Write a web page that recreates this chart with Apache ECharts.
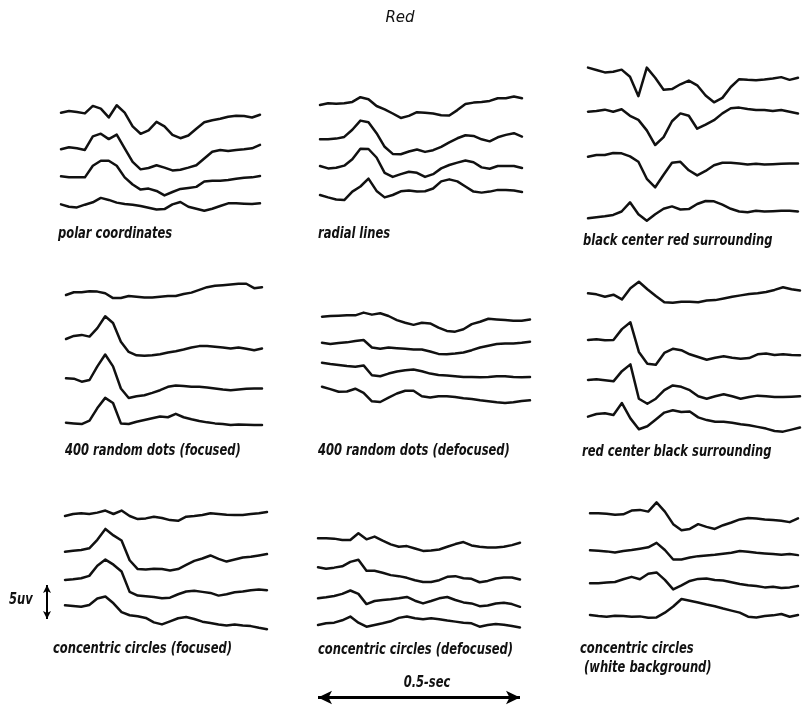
<!DOCTYPE html>
<html>
<head>
<meta charset="utf-8">
<script src="https://cdn.jsdelivr.net/npm/echarts@6/dist/echarts.min.js"></script>
<style>
  html, body { margin: 0; padding: 0; background: #fff; }
  #chart { width: 806px; height: 707px; }
</style>
</head>
<body>
<div id="chart"></div>
<script>
// Evoked responses to red patterns: four sweeps per stimulus.
// Every trace is sampled every SAMPLE_MS ms over a 0.5 s sweep; values in µV (positive = up).
const SAMPLE_MS = 20;
const SWEEP_MS = 500;
const SCALE_UV = 5;      // vertical calibration bar
const SCALE_MS = 500;    // horizontal calibration bar
const chartTitle = 'Red';

const polarCoordinates = [
  [0,0.25,0.1,-0.1,1.0,0.6,-0.7,1.1,0,-2.0,-3.1,-2.6,-1.35,-2.0,-3.25,-3.75,-3.35,-2.35,-1.4,-1.1,-0.9,-0.6,-0.45,-0.5,-0.7,-0.3],
  [0,0.3,0.15,-0.1,1.9,2.3,1.5,2.15,0.15,-1.85,-2.95,-2.75,-2.35,-2.7,-3.1,-3.0,-2.7,-2.35,-1.35,-0.35,-0.1,-0.25,-0.1,0,0.15,0.65],
  [-0.05,-0.2,-0.2,-0.2,1.5,2.25,2.25,1.5,-0.2,-1.25,-2.0,-1.85,-2.2,-2.85,-2.35,-1.9,-1.75,-1.6,-0.8,-0.7,-0.7,-0.6,-0.4,-0.25,-0.2,0],
  [-0.05,-0.4,-0.5,-0.1,0.25,0.9,0.6,0.2,0,-0.1,-0.3,-0.55,-0.8,-0.75,-0.05,0.3,-0.4,-0.7,-1.0,-0.7,-0.3,0.1,0.1,0.05,0,0.1]
];
const radialLines = [
  [0,0.25,0.2,0.25,0.45,1.15,0.85,-0.15,-0.65,-1.25,-1.9,-1.6,-1.05,-1.15,-1.25,-1.5,-1.55,-0.75,0.15,0.35,0.45,0.6,1.0,1.0,1.25,1.0],
  [0,0,0.1,0.35,1.4,2.75,2.5,0.9,-1.1,-2.15,-2.2,-1.8,-1.5,-1.85,-1.6,-1.1,-0.45,0.15,0.6,0.5,0,-0.3,0.3,0.65,0.9,0.4],
  [0,-0.35,-0.25,0.05,1.0,2.55,2.5,1.25,-1.0,-1.6,-1.2,-0.85,-1.0,-1.6,-1.2,-0.35,0.15,0.5,0.8,0.55,-0.2,-0.4,0,0,0,-0.3],
  [0,-0.35,-0.65,-0.75,0.5,1.25,2.4,0.6,-0.35,0,0.55,0.65,0.5,0.55,0.95,2.0,2.3,2.0,1.25,0.5,0.35,0.5,0.75,0.75,0.65,0.45]
];
const blackCenterRedSurround = [
  [0.1,-0.25,-0.6,-0.5,-0.2,-1.25,-4.1,0.1,-1.4,-3.15,-3.05,-2.35,-1.8,-2.5,-4.0,-5.0,-4.35,-2.75,-1.6,-1.7,-1.75,-1.65,-1.5,-1.3,-1.7,-1.4],
  [0,0.1,0.3,0,0.35,-0.6,-1.2,-2.75,-4.9,-3.75,-1.4,-0.25,-0.6,-2.5,-1.9,-1.25,-0.25,0.5,0.6,0.4,0.25,0.25,0.1,0.25,0,-0.25],
  [0,0.25,0.25,0.55,0.5,0.05,-0.75,-3.25,-4.5,-2.65,-0.9,-0.75,-2.0,-2.75,-2.1,-1.25,-0.9,-0.9,-1.0,-1.15,-1.05,-1.15,-1.1,-1.05,-1.0,-1.0],
  [0,0.15,0.3,0.5,1.0,2.35,0.6,-0.35,0.6,1.4,1.75,1.3,1.35,2.1,2.55,2.5,2.0,1.4,1.0,0.9,1.1,1.0,1.05,1.1,1.1,1.0]
];
const randomDotsFocused = [
  [-0.25,0.15,0.15,0.3,0.25,0,-0.7,-0.7,-0.4,-0.5,-0.6,-0.6,-0.5,-0.4,-0.4,-0.1,0.1,0.5,0.9,1.1,1.2,1.3,1.4,1.4,0.75,0.9],
  [-0.1,0.35,0.5,0.25,1.5,3.25,2.25,-0.5,-2.0,-2.5,-2.55,-2.5,-2.35,-2.1,-1.9,-1.65,-1.35,-1.15,-1.15,-1.25,-1.35,-1.5,-1.35,-1.55,-1.75,-1.5],
  [0,-0.05,-0.5,-0.25,1.75,3.5,1.75,-1.5,-2.9,-2.65,-2.5,-2.15,-1.75,-1.25,-1.05,-1.15,-1.25,-1.25,-1.35,-1.5,-1.65,-1.75,-1.65,-1.55,-1.5,-1.5],
  [0,-0.1,-0.2,0.3,2.15,3.65,2.9,-0.1,-0.2,0.15,0.4,0.65,0.9,0.8,1.3,0.8,0.5,0.25,0.05,-0.1,-0.2,-0.35,-0.25,-0.3,-0.35,-0.35]
];
const randomDotsDefocused = [
  [-0.1,0,0.05,0.1,0.1,0.5,0.2,0.4,0,-0.6,-1.0,-1.3,-1.0,-1.1,-1.7,-2.2,-2.3,-1.95,-1.2,-0.85,-0.4,-0.5,-0.6,-0.7,-0.7,-0.5],
  [0,-0.2,-0.05,0.05,0.25,0.4,-0.7,-0.9,-0.7,-0.8,-0.9,-1.0,-1.0,-1.3,-1.65,-1.7,-1.6,-1.45,-1.1,-0.7,-0.45,-0.2,-0.1,-0.1,0,0.15],
  [0,-0.2,-0.35,-0.5,-0.6,-0.4,-1.85,-2.0,-1.6,-1.3,-1.1,-1.0,-1.25,-1.6,-1.8,-1.9,-2.0,-2.1,-2.1,-2.15,-2.1,-2.0,-2.0,-2.1,-2.15,-2.1],
  [0,-0.35,-0.75,-0.7,-0.3,-0.9,-2.15,-2.25,-1.6,-1.0,-0.6,-0.6,-1.4,-1.6,-1.4,-1.4,-1.5,-1.7,-1.8,-2.0,-2.15,-2.3,-2.4,-2.3,-2.1,-2.0]
];
const redCenterBlackSurround = [
  [0.1,-0.05,-0.4,-0.1,-0.8,0.85,1.8,0.7,-0.3,-1.2,-1.3,-1.15,-1.15,-1.2,-0.95,-0.9,-0.65,-0.4,-0.2,0,0.1,0.3,0.6,1.0,0.7,0.5],
  [0,0.1,-0.05,0,1.6,2.6,-1.75,-3.5,-3.65,-1.9,-1.3,-1.5,-2.1,-2.5,-2.9,-2.6,-2.4,-2.6,-2.75,-2.65,-2.1,-2.0,-2.2,-2.1,-2.2,-2.25],
  [0,0.1,-0.05,-0.2,1.3,2.3,-2.75,-3.5,-2.75,-1.5,-0.8,-1.0,-1.5,-2.4,-2.75,-2.4,-2.1,-2.4,-2.75,-2.5,-2.3,-2.4,-2.5,-2.5,-2.45,-2.4],
  [-0.1,0.3,0.4,0.15,1.9,-0.35,-1.95,-1.5,-0.5,0.5,0.85,0.6,0.65,-0.2,-0.6,-0.85,-0.85,-1.0,-1.2,-1.35,-1.6,-1.85,-2.2,-2.3,-2.0,-1.7]
];
const circlesFocused = [
  [-0.15,0.15,0.25,0.15,0.35,0.65,0.15,0.65,-0.15,-0.6,-0.5,-0.25,-0.45,-0.75,-0.85,-0.25,-0.15,0,0.25,0.15,0.05,0,0,0.15,0.25,0.45],
  [-0.15,0,0.1,0.35,1.6,3.2,2.25,1.5,-1.4,-2.7,-2.75,-2.65,-2.7,-2.9,-2.7,-2.1,-1.5,-1.15,-0.7,-1.2,-1.6,-1.3,-1.0,-0.9,-0.7,-0.5],
  [-0.1,0,0.15,0.5,2.0,2.9,2.15,1.15,-1.85,-2.4,-2.5,-2.6,-2.8,-2.7,-2.2,-1.8,-1.7,-1.85,-2.0,-2.4,-2.2,-1.9,-1.8,-1.6,-1.5,-1.6],
  [0.05,-0.05,-0.15,0.1,1.05,1.35,0.35,-0.95,-1.4,-1.55,-1.8,-2.45,-2.75,-2.3,-1.85,-1.65,-1.95,-2.35,-2.55,-2.75,-2.9,-2.75,-2.9,-3.0,-3.25,-3.45]
];
const circlesDefocused = [
  [0,0,-0.05,-0.25,-0.25,0.75,-0.15,0.25,-0.35,-0.9,-1.25,-1.15,-1.5,-1.85,-1.8,-1.65,-1.25,-0.85,-0.55,-1.05,-1.25,-1.35,-1.35,-1.25,-1.0,-0.65],
  [0,-0.2,-0.05,0.15,0.8,1.1,-0.5,-0.5,-0.8,-1.15,-1.3,-1.55,-1.9,-2.15,-2.15,-1.9,-1.4,-1.3,-1.6,-1.7,-2.2,-2.0,-1.65,-1.5,-1.5,-1.8],
  [-0.15,0,0.2,0.5,1.0,0.5,-1.0,-0.55,-0.4,-0.3,-0.15,0.05,-0.5,-0.9,-0.55,-0.15,0.05,-0.4,-0.75,-0.9,-1.3,-1.2,-0.9,-0.8,-1.0,-1.4],
  [-0.15,0.1,0.2,0.55,1.1,0.2,-0.4,-0.15,0.1,0.4,0.9,1.1,0.85,0.7,0.85,0.7,0.5,0.35,0.2,0.1,-0.4,-0.15,0,-0.1,-0.3,-0.5]
];
const circlesWhiteBackground = [
  [0,0,-0.05,-0.2,-0.15,0.4,0.5,0.25,1.6,0.25,-1.6,-2.5,-2.3,-1.6,-2.0,-2.3,-1.75,-1.35,-0.9,-0.7,-0.75,-0.9,-1.0,-1.1,-1.3,-0.75],
  [0.05,0,-0.1,-0.25,-0.05,0.1,0.3,0.5,1.15,0.1,-1.3,-1.3,-1.0,-0.8,-0.7,-0.6,-0.45,-0.3,-0.05,-0.15,-0.3,-0.4,-0.5,-0.6,-0.5,-0.65],
  [0,0,0.1,0.2,0.6,0.95,0.6,1.4,1.6,0.5,-0.9,-0.3,0.35,0.65,0.7,0.5,0.4,0.15,-0.1,-0.3,-0.4,-0.6,-0.5,-0.7,-0.6,-0.4],
  [0.1,-0.05,-0.15,0,-0.05,-0.15,-0.1,-0.3,-0.25,0.45,1.35,2.45,2.2,1.95,1.65,1.4,1.05,0.75,0.45,-0.15,-0.25,-0.05,0.05,0.25,-0.15,0.1]
];

const stimulusLabels = [
  'polar coordinates', 'radial lines', 'black center red surrounding',
  '400 random dots (focused)', '400 random dots (defocused)', 'red center black surrounding',
  'concentric circles (focused)', 'concentric circles (defocused)', 'concentric circles\n (white background)'
];
const scaleLabels = { uv: '5uv', time: '0.5-sec' };

// ---- layout (pixels) ----
const UV_PX = 6.8;   // vertical gain: pixels per µV
const Y_HALF = 6;    // each trace box spans ±Y_HALF µV around its baseline
const panelLayout = [
  { data: polarCoordinates,       x0: 61,  x1: 260, bases: [112.7, 149.3, 176, 204],   lx: 58,  ly: 234 },
  { data: radialLines,            x0: 320, x1: 522, bases: [105, 139.3, 166, 195],     lx: 318, ly: 234 },
  { data: blackCenterRedSurround, x0: 588, x1: 798, bases: [68.3, 111.7, 156.7, 218.3], lx: 583, ly: 241 },
  { data: randomDotsFocused,      x0: 66,  x1: 262, bases: [293.3, 338.3, 378.3, 422.7], lx: 65, ly: 451 },
  { data: randomDotsDefocused,    x0: 322, x1: 530, bases: [316, 342.7, 362.7, 386.7], lx: 318, ly: 451 },
  { data: redCenterBlackSurround, x0: 588, x1: 800, bases: [294, 340, 380, 416],       lx: 582, ly: 452 },
  { data: circlesFocused,         x0: 65,  x1: 267, bases: [515, 550.7, 579.3, 605.7], lx: 53,  ly: 649 },
  { data: circlesDefocused,       x0: 318, x1: 520, bases: [538.3, 567.3, 597.3, 624], lx: 318, ly: 650 },
  { data: circlesWhiteBackground, x0: 590, x1: 798, bases: [513.3, 550.7, 583.3, 615.7], lx: 580, ly: 658 }
];

const grids = [], xAxes = [], yAxes = [], series = [];
function addGrid(box, xRange, yRange) {
  const i = grids.length;
  grids.push(Object.assign({ containLabel: false, show: false }, box));
  xAxes.push({ gridIndex: i, type: 'value', min: xRange[0], max: xRange[1], show: false });
  yAxes.push({ gridIndex: i, type: 'value', min: yRange[0], max: yRange[1], show: false });
  return i;
}

panelLayout.forEach(p => {
  p.data.forEach((trace, ti) => {
    const gi = addGrid(
      { left: p.x0, width: p.x1 - p.x0, top: p.bases[ti] - Y_HALF * UV_PX, height: 2 * Y_HALF * UV_PX },
      [0, SWEEP_MS], [-Y_HALF, Y_HALF]
    );
    series.push({
      type: 'line', xAxisIndex: gi, yAxisIndex: gi, silent: true,
      symbol: 'none', smooth: false,
      data: trace.map((v, k) => [k * SAMPLE_MS, v]),
      lineStyle: { color: '#111', width: 2.5, cap: 'round', join: 'round' }
    });
  });
});

// vertical calibration bar (5 µV), same gain as the traces
const uvGrid = addGrid({ left: 44, width: 6, top: 619 - SCALE_UV * UV_PX, height: SCALE_UV * UV_PX }, [0, 1], [0, SCALE_UV]);
series.push({
  type: 'line', xAxisIndex: uvGrid, yAxisIndex: uvGrid, data: [], silent: true,
  markLine: {
    silent: true, animation: false, symbol: ['arrow', 'arrow'], symbolSize: [6, 8],
    label: { show: false }, lineStyle: { type: 'solid', color: '#000', width: 2 },
    data: [[{ coord: [0.5, 0] }, { coord: [0.5, SCALE_UV] }]]
  }
});

// horizontal calibration bar (0.5 s), same time base as the middle column
const tGrid = addGrid({ left: 318, width: 202, top: 688, height: 20 }, [0, SWEEP_MS], [-1, 1]);
series.push({
  type: 'line', xAxisIndex: tGrid, yAxisIndex: tGrid, data: [], silent: true,
  markLine: {
    silent: true, animation: false, symbol: ['arrow', 'arrow'], symbolSize: [10, 14],
    label: { show: false }, lineStyle: { type: 'solid', color: '#000', width: 3 },
    data: [[{ coord: [0, 0] }, { coord: [SCALE_MS, 0] }]]
  }
});

// heavy condensed italic lettering, narrowed horizontally
const LABEL_FONT = 'italic bold 16px "DejaVu Sans Condensed", "DejaVu Sans", sans-serif';
const LABEL_SCALE_X = 0.8;
const graphics = panelLayout.map((p, i) => ({
  type: 'text', x: p.lx, y: p.ly, scaleX: LABEL_SCALE_X, silent: true,
  style: { text: stimulusLabels[i], font: LABEL_FONT, fill: '#111', verticalAlign: 'middle', align: 'left', lineHeight: 19 }
}));
graphics.push(
  { type: 'text', x: 400, y: 18, silent: true,
    style: { text: chartTitle, font: 'italic 15px "DejaVu Sans", sans-serif', fill: '#111', align: 'center', verticalAlign: 'middle' } },
  { type: 'text', x: 9, y: 600, scaleX: LABEL_SCALE_X, silent: true,
    style: { text: scaleLabels.uv, font: LABEL_FONT, fill: '#111', align: 'left', verticalAlign: 'middle' } },
  { type: 'text', x: 427, y: 683, scaleX: LABEL_SCALE_X, silent: true,
    style: { text: scaleLabels.time, font: LABEL_FONT, fill: '#111', align: 'center', verticalAlign: 'middle' } }
);

const chart = echarts.init(document.getElementById('chart'));
chart.setOption({
  backgroundColor: '#fff',
  animation: false,
  grid: grids, xAxis: xAxes, yAxis: yAxes, series: series,
  graphic: graphics
});
</script>
</body>
</html>
